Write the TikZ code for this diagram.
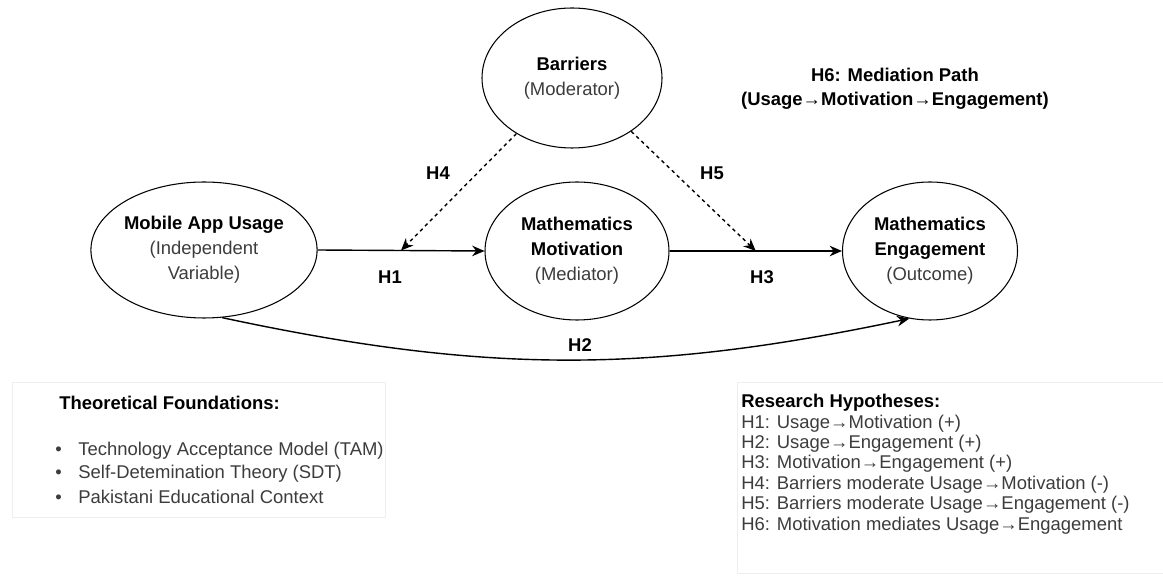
\documentclass[tikz,border=0pt]{standalone}
\usepackage{fontspec}
\setmainfont{Liberation Sans}
\usetikzlibrary{shapes.geometric,arrows.meta,calc}

\definecolor{subtext}{RGB}{60,60,60}
\definecolor{boxline}{RGB}{238,238,238}
\newcommand{\subtxt}[1]{\textcolor{subtext}{#1}}

\begin{document}
\begin{tikzpicture}[
    var/.style={draw, ellipse, line width=0.6pt, inner sep=0pt, align=center, font=\fontsize{10.5}{14.2}\selectfont},
    arr/.style={-{Stealth[length=7pt,width=6pt]}, line width=0.8pt},
    modarr/.style={arr, dash pattern=on 2pt off 2pt},
    hlabel/.style={font=\fontsize{10.5}{12}\selectfont\bfseries},
    listtxt/.style={anchor=west, inner sep=0pt, text=subtext, font=\fontsize{10.5}{12}\selectfont}
]
    \useasboundingbox (0,0) rectangle (23.26,11.66);

    % the four variables
    \node[var, minimum width=3.8cm, minimum height=2.72cm] (usage) at (4.08,6.66) {\textbf{Mobile App Usage}\\\subtxt{(Independent}\\\subtxt{Variable)}};
    \node[var, minimum width=3.68cm, minimum height=2.76cm] (motivation) at (11.54,6.64) {\textbf{Mathematics}\\\textbf{Motivation}\\\subtxt{(Mediator)}};
    \node[var, minimum width=3.6cm, minimum height=2.8cm] (barriers) at (11.44,10.1) {\textbf{Barriers}\\\subtxt{(Moderator)}};
    \node[var, minimum width=3.5cm, minimum height=2.76cm] (engagement) at (18.6,6.64) {\textbf{Mathematics}\\\textbf{Engagement}\\\subtxt{(Outcome)}};

    % paths
    \coordinate (mod1) at ($(usage.east)!0.5!(motivation.west)$);
    \coordinate (mod2) at ($(motivation.east)!0.5!(engagement.west)$);
    \draw[arr] (usage.east) -- (motivation.west);
    \draw[arr] (motivation.east) -- (engagement.west);
    \draw[arr] (usage.-75) to[bend right=12] (engagement.-107);
    \draw[modarr] (barriers.225) -- (mod1);
    \draw[modarr] (barriers.-42) -- (mod2);

    \node[hlabel] (h1) at (7.8,6.12) {H1};
    \node[hlabel] (h2) at (11.6,4.76) {H2};
    \node[hlabel] (h3) at (15.24,6.12) {H3};
    \node[hlabel] (h4) at (8.76,8.2) {H4};
    \node[hlabel] (h5) at (14.24,8.2) {H5};
    \node[hlabel, align=center, font=\fontsize{10.5}{13.5}\selectfont\bfseries] (h6) at (17.9,9.89) {H6: Mediation Path\\(Usage→Motivation→Engagement)};

    % theory box
    \draw[boxline, line width=0.5pt] (0.24,1.32) rectangle (7.7,4.02);
    \node[listtxt, text=black, font=\fontsize{10.5}{12}\selectfont\bfseries] (theory) at (1.18,3.6) {Theoretical Foundations:};
    \foreach \txt [count=\i] in {Technology Acceptance Model (TAM), Self-Detemination Theory (SDT), Pakistani Educational Context}
        \node[listtxt] (theory\i) at (1.1,3.1-\i*0.46) {\makebox[0.46cm][l]{•}\txt};

    % hypotheses box
    \draw[boxline, line width=0.5pt] (23.4,4.02) -- (14.74,4.02) -- (14.74,0.2) -- (23.4,0.2);
    \node[listtxt, text=black, font=\fontsize{10.5}{12}\selectfont\bfseries] (hyp) at (14.82,3.6) {Research Hypotheses:};
    \foreach \txt [count=\i] in {H1: Usage→Motivation (+), H2: Usage→Engagement (+), H3: Motivation→Engagement (+), H4: Barriers moderate Usage→Motivation (-), H5: Barriers moderate Usage→Engagement (-), H6: Motivation mediates Usage→Engagement}
        \node[listtxt] (hyp\i) at (14.82,3.6-\i*0.408) {\txt};
\end{tikzpicture}
\end{document}
